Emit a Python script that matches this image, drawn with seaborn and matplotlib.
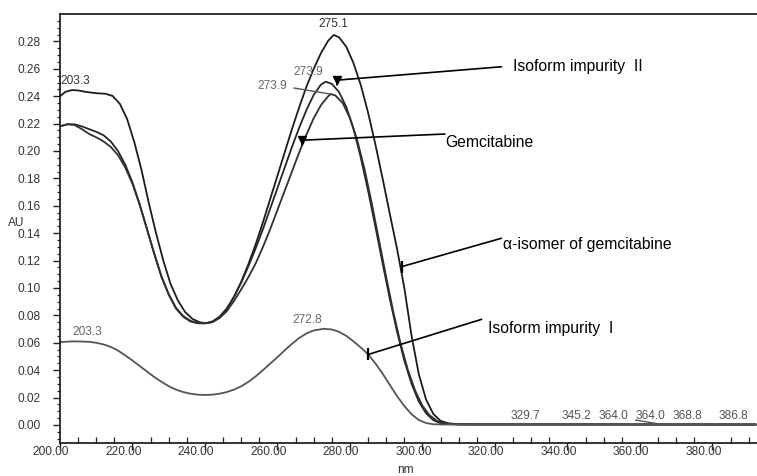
import numpy as np
import pandas as pd
import matplotlib
matplotlib.use("Agg")
import matplotlib.pyplot as plt
import matplotlib.transforms as mtransforms
from matplotlib.ticker import MultipleLocator, FormatStrFormatter
import seaborn as sns

# ---------------- data ----------------
alpha_nm = [200, 201.5, 203.3, 205, 207.5, 210, 212.5, 214.5, 216.5, 218.5, 220.5, 222.5, 224.5,
            226.5, 228.5, 230.5, 232.5, 234.5, 236.5, 238.5, 240.3, 242, 244, 246, 248, 250, 252,
            254, 256, 258, 260, 262, 264, 266, 268, 270, 272, 274, 275.5, 277, 279, 281, 283, 285,
            287, 289, 291, 293, 295, 297, 299, 301, 303, 305, 307, 310, 315, 392]
alpha_au = [0.240, 0.2432, 0.2445, 0.2442, 0.2430, 0.2422, 0.2418, 0.2402, 0.2345, 0.2235, 0.2065,
            0.1860, 0.1620, 0.1400, 0.1200, 0.1030, 0.0910, 0.0825, 0.0775, 0.0750, 0.0742, 0.0752,
            0.0785, 0.0845, 0.0935, 0.1045, 0.1175, 0.1320, 0.1480, 0.1650, 0.1820, 0.1990, 0.2160,
            0.2320, 0.2470, 0.2600, 0.2715, 0.2805, 0.2847, 0.2830, 0.2760, 0.2640, 0.2480, 0.2280,
            0.2050, 0.1800, 0.1540, 0.1285, 0.1000, 0.0650, 0.0370, 0.0185, 0.0080, 0.0030, 0.0012,
            0.0005, 0.0003, 0.0003]

iso2_nm = [200, 202, 204, 206, 208, 210, 212, 214, 216, 218, 220, 222, 224, 226, 228, 230, 232, 234,
           236, 238, 240, 242, 244, 246, 248, 250, 252, 254, 256, 258, 260, 262, 264, 266, 268, 270,
           272, 273.3, 275, 277, 279, 281, 283, 285, 287, 289, 291, 293, 295, 297, 299, 301, 303,
           305, 310, 392]
iso2_au = [0.218, 0.2195, 0.2195, 0.2180, 0.2160, 0.2140, 0.2115, 0.2070, 0.2000, 0.1900, 0.1770,
           0.1610, 0.1430, 0.1250, 0.1080, 0.0950, 0.0850, 0.0790, 0.0755, 0.0742, 0.0742, 0.0755,
           0.0790, 0.0850, 0.0935, 0.1040, 0.1160, 0.1290, 0.1430, 0.1580, 0.1730, 0.1880, 0.2030,
           0.2170, 0.2300, 0.2410, 0.2485, 0.2506, 0.2490, 0.2430, 0.2320, 0.2160, 0.1950, 0.1710,
           0.1450, 0.1180, 0.0920, 0.0680, 0.0470, 0.0300, 0.0170, 0.0085, 0.0035, 0.0012, 0.0004,
           0.0003]

gem_nm = [200, 202, 204, 206, 208, 210, 212, 214, 216, 218, 220, 222, 224, 226, 228, 230, 232, 234,
          236, 238, 240, 242, 244, 246, 248, 250, 252, 254, 256, 258, 260, 262, 264, 266, 268, 270,
          272, 274, 274.7, 276, 278, 280, 282, 284, 286, 288, 290, 292, 294, 296, 298, 300, 302,
          304, 306, 310, 392]
gem_au = [0.218, 0.2195, 0.2190, 0.2160, 0.2125, 0.2100, 0.2070, 0.2030, 0.1970, 0.1880, 0.1760,
          0.1605, 0.1430, 0.1250, 0.1085, 0.0955, 0.0855, 0.0795, 0.0760, 0.0745, 0.0742, 0.0750,
          0.0780, 0.0830, 0.0905, 0.0990, 0.1080, 0.1180, 0.1300, 0.1430, 0.1570, 0.1710, 0.1850,
          0.1990, 0.2120, 0.2240, 0.2335, 0.2400, 0.2416, 0.2405, 0.2350, 0.2240, 0.2080, 0.1870,
          0.1620, 0.1350, 0.1080, 0.0820, 0.0590, 0.0400, 0.0250, 0.0140, 0.0070, 0.0030, 0.0010,
          0.0004, 0.0003]

iso1_nm = [200, 203.3, 206, 208, 210, 212, 214, 216, 218, 220, 222, 224, 226, 228, 230, 232, 234,
           236, 238, 240, 242, 244, 246, 248, 250, 252, 254, 256, 258, 260, 262, 264, 266, 268, 270,
           272.8, 275, 277, 279, 281, 283, 285, 287, 289, 291, 293, 295, 297, 299, 301, 303, 306, 392]
iso1_au = [0.0605, 0.0610, 0.0609, 0.0607, 0.0600, 0.0588, 0.0570, 0.0543, 0.0508, 0.0470, 0.0430,
           0.0390, 0.0350, 0.0315, 0.0283, 0.0258, 0.0240, 0.0228, 0.0221, 0.0219, 0.0221, 0.0228,
           0.0240, 0.0258, 0.0282, 0.0315, 0.0355, 0.0400, 0.0448, 0.0495, 0.0545, 0.0592, 0.0635,
           0.0668, 0.0690, 0.0702, 0.0697, 0.0680, 0.0650, 0.0610, 0.0565, 0.0515, 0.0450, 0.0375,
           0.0292, 0.0210, 0.0138, 0.0078, 0.0036, 0.0014, 0.0005, 0.0003, 0.0003]

series_names = ["α-isomer of gemcitabine", "Isoform impurity  II", "Gemcitabine", "Isoform impurity  I"]
series_colors = ["#1c1c1c", "#262626", "#303030", "#555555"]

# peak labels: text, x, y, colour, alignment
peak_labels = [("203.3", 200.2, 0.2511, "#333333", "left"),
               ("275.1", 275.3, 0.2927, "#333333", "center"),
               ("273.9", 268.4, 0.2577, "#666666", "center"),
               ("273.9", 258.5, 0.2474, "#666666", "center"),
               ("203.3", 207.4, 0.0679, "#666666", "center"),
               ("272.8", 268.1, 0.0766, "#666666", "center")]
base_label_text = ["329.7", "345.2", "364.0", "364.0", "368.8", "386.8"]
base_label_x = [328.3, 342.6, 352.6, 363.0, 373.2, 385.7]

# callouts: name, tip (x,y), line end (x,y), text (x,y), marker
callouts = [("Isoform impurity  II", (276.3, 0.2482), (321.8, 0.2615), (324.9, 0.2615), "tri"),
            ("Gemcitabine", (266.9, 0.2044), (306.2, 0.2124), (306.4, 0.2061), "tri"),
            ("α-isomer of gemcitabine", (294.3, 0.1156), (321.8, 0.1363), (322.3, 0.1319), "bar"),
            ("Isoform impurity  I", (285.1, 0.0515), (316.3, 0.0771), (318.2, 0.0706), "bar")]

# ---------------- build table ----------------
frames = []
for name, xs, ys in zip(series_names, [alpha_nm, iso2_nm, gem_nm, iso1_nm],
                        [alpha_au, iso2_au, gem_au, iso1_au]):
    frames.append(pd.DataFrame({"nm": xs, "AU": ys, "series": name}))
df = pd.concat(frames, ignore_index=True)

sns.set_style("ticks")
plt.rcParams["font.family"] = ["Liberation Sans", "DejaVu Sans"]

fig = plt.figure(figsize=(7.57, 4.76), dpi=100)
ax = fig.add_axes([60 / 757, 1 - 443.3 / 476, (757 - 60) / 757, (443.3 - 14.3) / 476])

sns.lineplot(data=df, x="nm", y="AU", hue="series", hue_order=series_names,
             palette=dict(zip(series_names, series_colors)), estimator=None, sort=False,
             linewidth=1.3, legend=False, ax=ax)

ax.set_xlim(200, 392.3)
ax.set_ylim(-0.0134, 0.2998)
ax.set_xlabel("")
ax.set_ylabel("")

ax.xaxis.set_major_locator(MultipleLocator(20))
ax.xaxis.set_minor_locator(MultipleLocator(5))
ax.xaxis.set_major_formatter(FormatStrFormatter("%.2f"))
ax.set_yticks(np.arange(0, 0.281, 0.02))
ax.yaxis.set_minor_locator(MultipleLocator(0.005))
ax.yaxis.set_major_formatter(FormatStrFormatter("%.2f"))

ax.tick_params(axis="y", which="major", direction="out", length=5, width=1, pad=9,
               labelsize=8.6, labelcolor="#333333", color="#222222")
ax.tick_params(axis="y", which="minor", direction="out", length=2.5, width=0.9, color="#222222")
ax.tick_params(axis="x", which="major", direction="out", length=5, width=1, pad=-3.3,
               labelsize=8.6, labelcolor="#333333", color="#222222")
ax.tick_params(axis="x", which="minor", direction="in", length=4, width=0.9, color="#222222")

offset = mtransforms.ScaledTranslation(-9 / 100, 0, fig.dpi_scale_trans)
for lab in ax.get_xticklabels():
    lab.set_transform(lab.get_transform() + offset)

for side in ["left", "bottom", "top"]:
    ax.spines[side].set_visible(True)
    ax.spines[side].set_linewidth(1.2)
    ax.spines[side].set_color("#111111")
ax.spines["right"].set_visible(False)

# peak labels
for txt, x, y, col, ha in peak_labels:
    ax.text(x, y, txt, fontsize=8.6, color=col, ha=ha, va="center")
for txt, x in zip(base_label_text, base_label_x):
    ax.text(x, 0.0066, txt, fontsize=8.6, color="#555555", ha="center", va="center")

# leader line from lower 273.9 label to gemcitabine peak
ax.plot([264.5, 274.5], [0.2460, 0.2416], color="#555555", lw=1.0)
# small leader under second 364.0
ax.plot([358.8, 365.7], [0.0036, 0.0005], color="#555555", lw=1.0)

# callouts
for name, tip, lend, tpos, mk in callouts:
    if mk == "tri":
        ty = tip[1] + 0.0035
        ax.plot([tip[0], lend[0]], [ty, lend[1]], color="black", lw=1.2)
        ax.plot([tip[0]], [ty], marker="v", color="black", markersize=6, linestyle="none")
        ax.plot([tip[0], tip[0]], [ty, tip[1]], color="black", lw=1.2)
    else:
        ax.plot([tip[0], lend[0]], [tip[1], lend[1]], color="black", lw=1.2)
        ax.plot([tip[0]], [tip[1]], marker="|", color="black", markersize=9, mew=1.6,
                linestyle="none")
    ax.text(tpos[0], tpos[1], name, fontsize=11.3, color="black", ha="left", va="center")

fig.text(16 / 757, 1 - 223 / 476, "AU", fontsize=8.6, color="#333333", ha="center", va="center")
fig.text(405 / 757, 1 - 470 / 476, "nm", fontsize=8.6, color="#333333", ha="center", va="center")

fig.savefig("out.png", dpi=100)
